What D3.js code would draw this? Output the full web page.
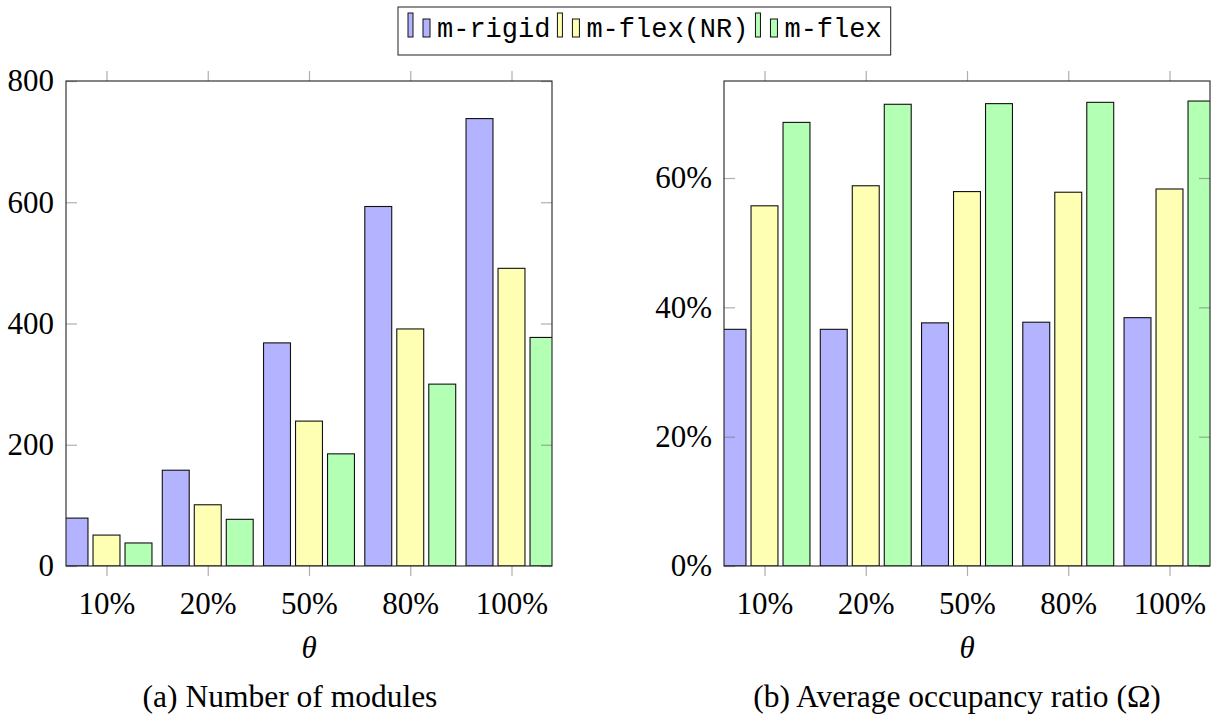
<!DOCTYPE html>
<html>
<head>
<meta charset="utf-8">
<script src="https://cdn.jsdelivr.net/npm/d3@7"></script>
<style>
  html, body { margin: 0; padding: 0; background: #fff; }
  svg { display: block; }
</style>
</head>
<body>
<svg id="chart" width="1220" height="721"></svg>
<script>
// ---------- data ----------
const categories = ["10%", "20%", "50%", "80%", "100%"];
const seriesNames = ["m-rigid", "m-flex(NR)", "m-flex"];
const seriesColors = ["#b3b3ff", "#ffffb3", "#b3ffb3"];

const modulesRigid  = [79, 158, 368, 593, 738];
const modulesFlexNR = [51, 101, 239, 391, 491];
const modulesFlex   = [38, 77, 185, 300, 377];

const occRigid  = [36.6, 36.6, 37.6, 37.7, 38.4];
const occFlexNR = [55.7, 58.8, 57.9, 57.8, 58.3];
const occFlex   = [68.6, 71.4, 71.5, 71.7, 71.9];

const modulesTicks = [0, 200, 400, 600, 800];
const occTicks = [0, 20, 40, 60];

const xLabel = "θ";
const captionA = "(a) Number of modules";
const captionB = "(b) Average occupancy ratio (Ω)";

// ---------- layout ----------
const svg = d3.select("#chart");
const serif = "'Liberation Serif', 'Times New Roman', serif";
const mono = "'Liberation Mono', 'DejaVu Sans Mono', monospace";
const plotTop = 81, plotBottom = 566;

function panel(opts) {
  const { id, left, right, yDomain, yTicks, yFmt, data, caption, captionX } = opts;
  const g = svg.append("g");

  const x = d3.scalePoint().domain(categories).range([left, right]).padding(0.4);
  const step = x.step();
  const y = d3.scaleLinear().domain(yDomain).range([plotBottom, plotTop]);
  const sub = d3.scalePoint().domain(seriesNames).range([-0.316 * step, 0.316 * step]);
  const barW = 0.266 * step;

  svg.append("defs").append("clipPath").attr("id", "clip-" + id)
    .append("rect").attr("x", left).attr("y", plotTop)
    .attr("width", right - left).attr("height", plotBottom - plotTop);

  const bars = g.append("g").attr("clip-path", `url(#clip-${id})`);
  data.forEach((vals, si) => {
    bars.selectAll(null).data(vals).enter().append("rect")
      .attr("x", (d, i) => x(categories[i]) + sub(seriesNames[si]) - barW / 2)
      .attr("y", d => y(d))
      .attr("width", barW)
      .attr("height", d => plotBottom - y(d))
      .attr("fill", seriesColors[si])
      .attr("stroke", "#111")
      .attr("stroke-width", 1.1);
  });

  const tickColor = "rgba(110,110,110,0.55)";
  const axL = g.append("g").attr("transform", `translate(${left},0)`)
    .call(d3.axisLeft(y).tickValues(yTicks).tickFormat(yFmt).tickSize(-11).tickPadding(12));
  const axR = g.append("g").attr("transform", `translate(${right},0)`)
    .call(d3.axisRight(y).tickValues(yTicks).tickFormat("").tickSize(-11));
  const axB = g.append("g").attr("transform", `translate(0,${plotBottom})`)
    .call(d3.axisBottom(x).tickSize(10).tickPadding(16));
  const axT = g.append("g").attr("transform", `translate(0,${plotTop})`)
    .call(d3.axisTop(x).tickFormat("").tickSize(10));
  [axL, axR, axB, axT].forEach(a => {
    a.select(".domain").remove();
    a.selectAll(".tick line").attr("stroke", tickColor).attr("stroke-width", 1.2);
    a.selectAll(".tick text").attr("fill", "#000")
      .style("font-family", serif).style("font-size", "31px");
  });
  g.append("rect").attr("x", left).attr("y", plotTop)
    .attr("width", right - left).attr("height", plotBottom - plotTop)
    .attr("fill", "none").attr("stroke", "#222").attr("stroke-width", 1.1);

  g.append("text").attr("x", (left + right) / 2).attr("y", 658)
    .attr("text-anchor", "middle").style("font-family", serif)
    .style("font-style", "italic").style("font-size", "31px").text(xLabel);
  g.append("text").attr("x", captionX).attr("y", 707)
    .attr("text-anchor", "middle").style("font-family", serif)
    .style("font-size", "31.5px").text(caption);
}

panel({
  id: "a", left: 66, right: 552, yDomain: [0, 800], yTicks: modulesTicks,
  yFmt: d => d3.format("d")(d),
  data: [modulesRigid, modulesFlexNR, modulesFlex],
  caption: captionA, captionX: 290
});
panel({
  id: "b", left: 724, right: 1210, yDomain: [0, 75], yTicks: occTicks,
  yFmt: d => d + "%",
  data: [occRigid, occFlexNR, occFlex],
  caption: captionB, captionX: 957
});

// ---------- legend ----------
const leg = svg.append("g");
const legBox = leg.append("rect").attr("y", 7).attr("height", 48)
  .attr("fill", "#fff").attr("stroke", "#333").attr("stroke-width", 1.1);
let cursor = 408;
const baseY = 37;
seriesNames.forEach((name, i) => {
  leg.append("rect").attr("x", cursor).attr("y", baseY - 24).attr("width", 5).attr("height", 24)
    .attr("fill", seriesColors[i]).attr("stroke", "#111").attr("stroke-width", 1);
  leg.append("rect").attr("x", cursor + 15).attr("y", baseY - 18).attr("width", 7).attr("height", 18)
    .attr("fill", seriesColors[i]).attr("stroke", "#111").attr("stroke-width", 1);
  const t = leg.append("text").attr("x", cursor + 29).attr("y", baseY)
    .style("font-family", mono).style("font-size", "27px").attr("fill", "#000").text(name);
  const w = t.node().getComputedTextLength();
  cursor = cursor + 29 + w + 7;
});
legBox.attr("x", 398).attr("width", cursor - 7 + 9 - 398);
</script>
</body>
</html>
